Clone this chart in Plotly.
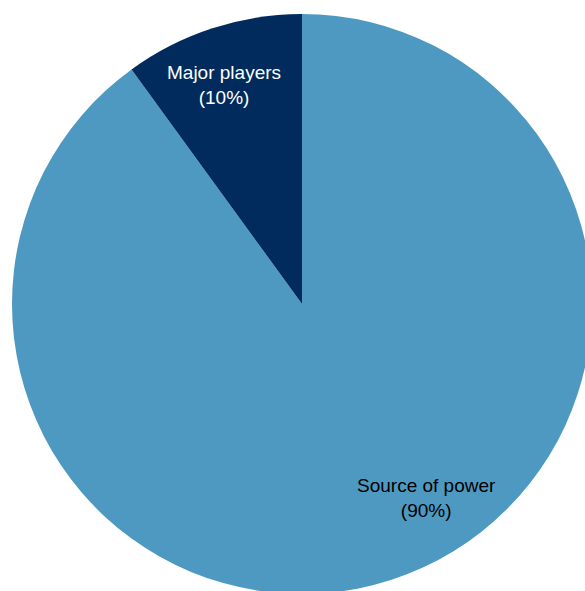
import plotly.graph_objects as go

labels = ["Source of power", "Major players"]
values = [90, 10]
colors = ["#4E99C1", "#002B5C"]
text_colors = ["#000000", "#FFFFFF"]
# label anchor points (paper coords within the pie plot area)
label_x = [0.714, 0.366]
label_y = [0.166, 0.878]

fig = go.Figure(go.Pie(
    labels=labels,
    values=values,
    sort=False,
    direction="clockwise",
    rotation=0,
    marker=dict(colors=colors, line=dict(width=0)),
    textinfo="none",
    hoverinfo="label+percent",
    showlegend=False,
))

for lab, val, tc, x, y in zip(labels, values, text_colors, label_x, label_y):
    fig.add_annotation(
        x=x, y=y, xref="paper", yref="paper",
        xanchor="center", yanchor="middle",
        text=f"{lab}<br>({val}%)",
        showarrow=False,
        font=dict(family="Arial, Liberation Sans, sans-serif", size=19, color=tc),
        align="center",
    )

fig.update_layout(
    width=604, height=608,
    margin=dict(l=12, r=12, t=14, b=14),
    paper_bgcolor="white",
    plot_bgcolor="white",
)

fig.write_html(
    "out.html",
    post_script="document.documentElement.style.overflow='hidden';document.body.style.overflow='hidden';document.body.style.margin='0';",
)
